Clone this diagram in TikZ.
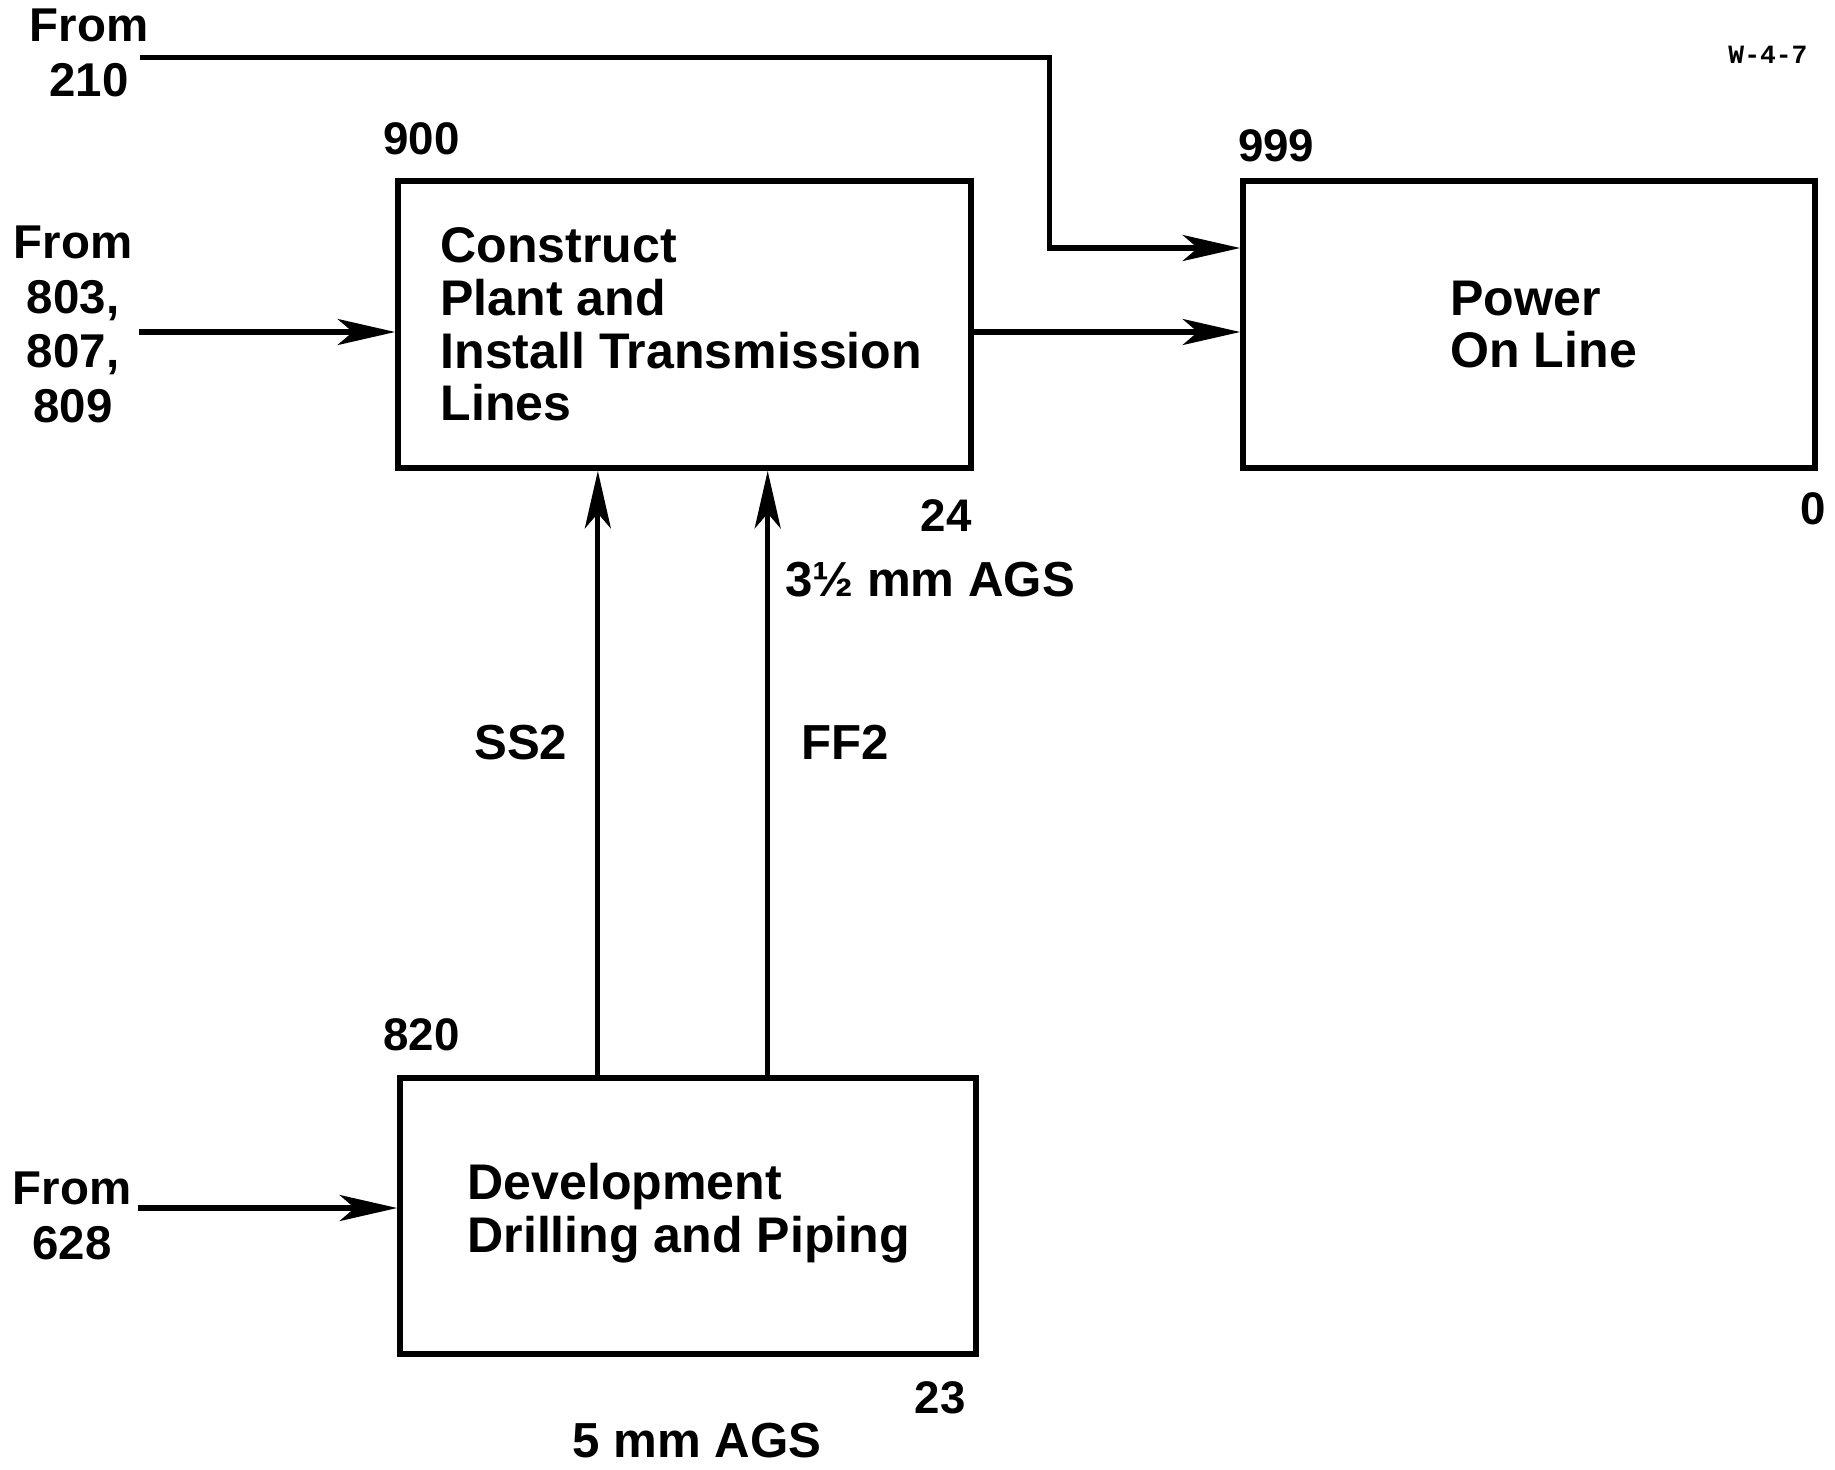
\documentclass[tikz,border=0pt]{standalone}
\usepackage{fontspec}
\setmainfont{Liberation Sans}
\newfontfamily\typewfont{Liberation Mono}
\usetikzlibrary{arrows.meta,positioning,calc}
\tikzset{
  procbox/.style={draw=black,line width=3.3pt,rectangle,
    minimum width=11.46cm,minimum height=5.74cm},
  boxtext/.style={inner sep=0pt,align=left,
    font=\fontsize{28.5}{30}\selectfont\bfseries},
  fromlbl/.style={inner sep=0.12cm,align=center,
    font=\fontsize{27}{31}\selectfont\bfseries},
  numlbl/.style={inner sep=0pt,font=\fontsize{26}{30}\selectfont\bfseries},
  edgelbl/.style={inner sep=0pt,font=\fontsize{28}{30}\selectfont\bfseries},
  flowarrow/.style={-{Stealth[length=1.15cm,width=0.52cm,inset=0.3cm]},
    line width=2.9pt,draw=black},
}

\begin{document}
\begin{tikzpicture}[x=0.02cm,y=-0.02cm]
\useasboundingbox (0,0) rectangle (1835,1470);
\node[procbox] (b900) at (684.5,324.5) {};
\node[procbox,minimum width=11.44cm] (b999) at (1529,324.5) {};
\node[procbox,minimum width=11.52cm,minimum height=5.52cm] (b820) at (688,1216) {};
\node[boxtext,right=0.9cm of b900.west] (t900) {Construct\\Plant and\\Install Transmission\\Lines};
\node[boxtext,right=4.2cm of b999.west] (t999) {Power\\On Line};
\node[boxtext,right=1.4cm of b820.west,yshift=0.06cm] (t820) {Development\\Drilling and Piping};
\node[fromlbl] (f210) at (89,53) {From\\210};
\node[fromlbl,left=5.13cm of b900.west] (f803) {From\\803,\\807,\\809};
\node[fromlbl,left=5.19cm of b820.west] (f628) {From\\628};
\node[numlbl,above right=0.46cm and -0.24cm of b900.north west] (n900) {900};
\node[numlbl,above right=0.32cm and -0.05cm of b999.north west] (n999) {999};
\node[numlbl,above right=0.48cm and -0.28cm of b820.north west] (n820) {820};
\node[numlbl,below left=0.56cm and 0.04cm of b900.south east] (n24) {24};
\node[numlbl,below left=0.42cm and -0.16cm of b999.south east] (n0) {0};
\node[numlbl,below left=0.48cm and 0.26cm of b820.south east] (n23) {23};
\node[edgelbl,below right=1.82cm and -3.78cm of b900.south east] (ags35) {3½ mm AGS};
\node[edgelbl,below=1.31cm of b820.south,xshift=0.18cm] (ags5) {5 mm AGS};
\node[inner sep=0pt,font=\typewfont\bfseries\fontsize{15}{18}\selectfont] (wnum) at (1768,55) {W-4-7};
\coordinate (ssfoot) at ($(b820.north west)!0.345!(b820.north east)$);
\coordinate (fffoot) at ($(b820.north west)!0.637!(b820.north east)$);
\draw[flowarrow] ([xshift=-0.3cm,yshift=-0.09cm]f210.east) -| ([xshift=-3.81cm,yshift=1.53cm]b999.west) -- ([yshift=1.53cm]b999.west);
\draw[flowarrow] ([yshift=-0.15cm]f803.east) -- ([yshift=-0.15cm]b900.west);
\draw[flowarrow] ([yshift=-0.15cm]b900.east) -- ([yshift=-0.15cm]b999.west);
\draw[flowarrow] ([yshift=0.16cm]f628.east) -- ([yshift=0.16cm]b820.west);
\draw[flowarrow] (ssfoot) -- (ssfoot |- b900.south) node[edgelbl,pos=0.55,left=0.56cm] (ss2) {SS2};
\draw[flowarrow] (fffoot) -- (fffoot |- b900.south) node[edgelbl,pos=0.55,right=0.62cm] (ff2) {FF2};
\end{tikzpicture}
\end{document}
